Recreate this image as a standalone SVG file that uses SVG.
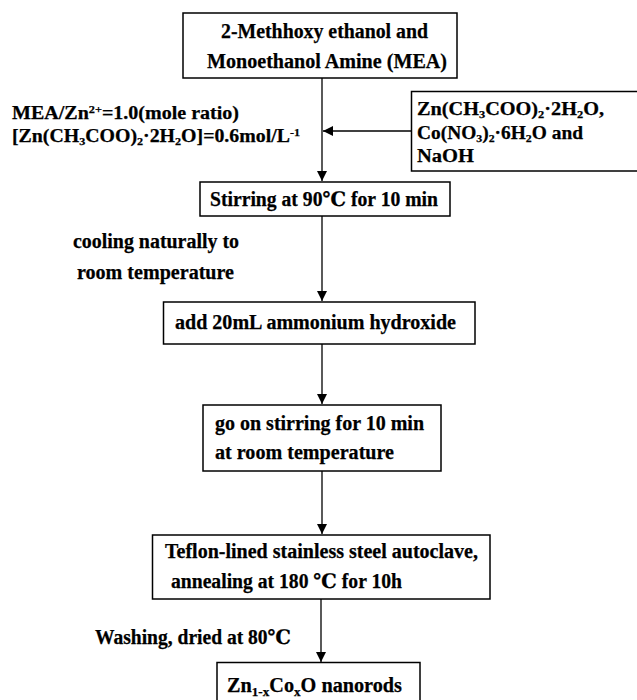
<svg xmlns="http://www.w3.org/2000/svg" width="637" height="700" viewBox="0 0 637 700">
<style>
text{font-family:"Liberation Serif","Times New Roman","DejaVu Serif",serif;font-weight:bold;fill:#000;stroke:#000;stroke-width:0.25;font-size:20px}
text.t{font-size:18px}
.box{fill:#fff;stroke:#000;stroke-width:1.5}
.con{stroke:#000;stroke-width:1.3;fill:none}
.sm{font-size:13px}
text.t .sm{font-size:11px}
</style>
<defs>
<marker id="ah" markerUnits="userSpaceOnUse" markerWidth="12" markerHeight="12" refX="10" refY="5" orient="auto">
<path d="M0,0 L10,5 L0,10 Z" fill="#000"/>
</marker>
</defs>
<rect width="637" height="700" fill="#fff"/>
<g id="connectors">
<line class="con" x1="322" y1="78" x2="322" y2="181" marker-end="url(#ah)"/>
<line class="con" x1="411" y1="131" x2="323" y2="131" marker-end="url(#ah)"/>
<line class="con" x1="322" y1="216" x2="322" y2="301" marker-end="url(#ah)"/>
<line class="con" x1="322" y1="344" x2="322" y2="404" marker-end="url(#ah)"/>
<line class="con" x1="322" y1="471" x2="322" y2="534" marker-end="url(#ah)"/>
<line class="con" x1="321" y1="599" x2="321" y2="662" marker-end="url(#ah)"/>
</g>
<g id="n1">
<rect class="box" x="183" y="13" width="274" height="65"/>
<text x="221" y="38" textLength="207" lengthAdjust="spacingAndGlyphs">2-Methhoxy ethanol and</text>
<text x="207" y="68" textLength="240" lengthAdjust="spacingAndGlyphs">Monoethanol Amine (MEA)</text>
</g>
<g id="n2">
<rect class="box" x="411.5" y="91.5" width="230" height="79.5"/>
<text class="t" x="417" y="115" textLength="187" lengthAdjust="spacingAndGlyphs">Zn(CH<tspan class="sm" dy="3">3</tspan><tspan dy="-3">COO)</tspan><tspan class="sm" dy="3">2</tspan><tspan dy="-3">·2H</tspan><tspan class="sm" dy="3">2</tspan><tspan dy="-3">O,</tspan></text>
<text class="t" x="417" y="139" textLength="166" lengthAdjust="spacingAndGlyphs">Co(NO<tspan class="sm" dy="3">3</tspan><tspan dy="-3">)</tspan><tspan class="sm" dy="3">2</tspan><tspan dy="-3">·6H</tspan><tspan class="sm" dy="3">2</tspan><tspan dy="-3">O and</tspan></text>
<text class="t" x="417" y="162" textLength="57" lengthAdjust="spacingAndGlyphs">NaOH</text>
</g>
<g id="label1">
<text class="t" x="12" y="119" textLength="227" lengthAdjust="spacingAndGlyphs">MEA/Zn<tspan class="sm" dy="-6">2+</tspan><tspan dy="6">=1.0(mole ratio)</tspan></text>
<text class="t" x="12" y="142" textLength="288" lengthAdjust="spacingAndGlyphs">[Zn(CH<tspan class="sm" dy="3">3</tspan><tspan dy="-3">COO)</tspan><tspan class="sm" dy="3">2</tspan><tspan dy="-3">·2H</tspan><tspan class="sm" dy="3">2</tspan><tspan dy="-3">O]=0.6mol/L</tspan><tspan class="sm" dy="-6">-1</tspan></text>
</g>
<g id="n3">
<rect class="box" x="200" y="182" width="250" height="34"/>
<text x="210" y="206" textLength="228" lengthAdjust="spacingAndGlyphs">Stirring at 90℃ for 10 min</text>
</g>
<g id="label2">
<text x="73" y="248" textLength="166" lengthAdjust="spacingAndGlyphs">cooling naturally to</text>
<text x="77" y="279" textLength="157" lengthAdjust="spacingAndGlyphs">room temperature</text>
</g>
<g id="n4">
<rect class="box" x="163.5" y="302" width="311.5" height="42"/>
<text x="175" y="329" textLength="281" lengthAdjust="spacingAndGlyphs">add 20mL ammonium hydroxide</text>
</g>
<g id="n5">
<rect class="box" x="203" y="405" width="238" height="66"/>
<text x="215" y="430" textLength="209" lengthAdjust="spacingAndGlyphs">go on stirring for 10 min</text>
<text x="215" y="459" textLength="179" lengthAdjust="spacingAndGlyphs">at room temperature</text>
</g>
<g id="n6">
<rect class="box" x="152.5" y="535" width="337.5" height="64"/>
<text x="165" y="558" textLength="313" lengthAdjust="spacingAndGlyphs">Teflon-lined stainless steel autoclave,</text>
<text x="171" y="588" textLength="231" lengthAdjust="spacingAndGlyphs">annealing at 180 ℃ for 10h</text>
</g>
<g id="label3">
<text x="95" y="644" textLength="196" lengthAdjust="spacingAndGlyphs">Washing, dried at 80℃</text>
</g>
<g id="n7">
<rect class="box" x="217" y="662.5" width="203" height="50"/>
<text x="227" y="692" textLength="175" lengthAdjust="spacingAndGlyphs">Zn<tspan class="sm" dy="4">1-x</tspan><tspan dy="-4">Co</tspan><tspan class="sm" dy="4">x</tspan><tspan dy="-4">O nanorods</tspan></text>
</g>
</svg>
